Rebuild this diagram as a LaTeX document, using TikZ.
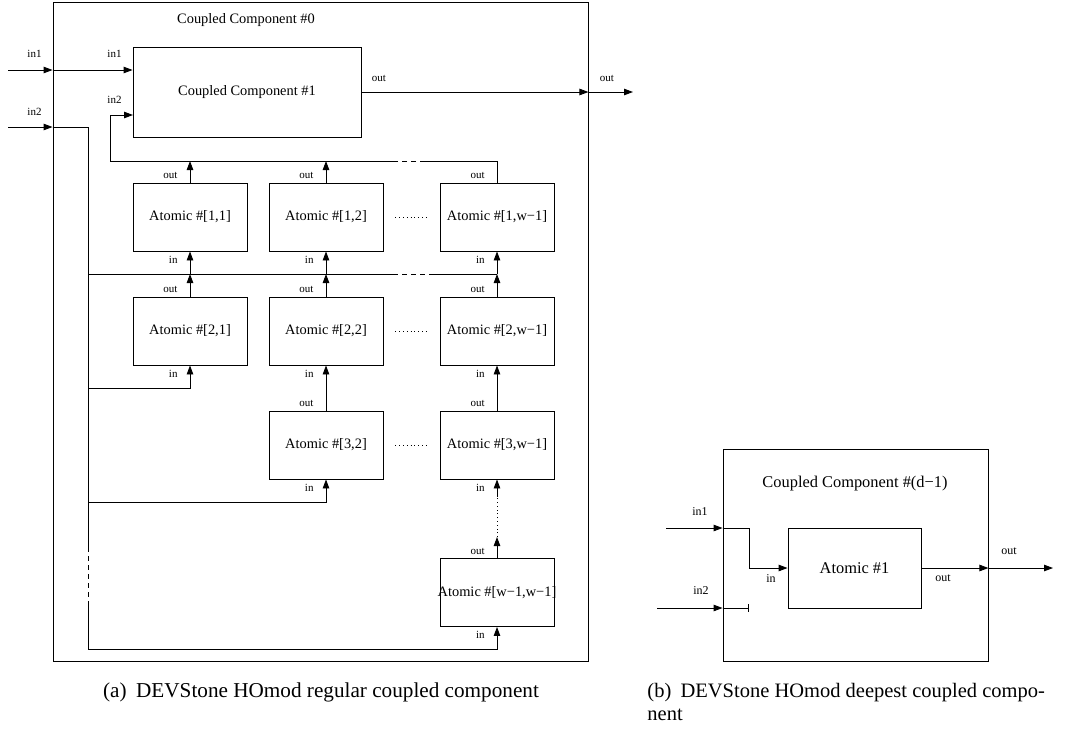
\documentclass[tikz,border=0pt]{standalone}
\usepackage{fontspec}
\setmainfont{Liberation Serif}
\usetikzlibrary{arrows.meta}

\begin{document}
\begin{tikzpicture}[x=1pt,y=-1pt,line width=0.9pt,
    devTxt/.style={font=\fontsize{14.4}{17}\selectfont},
    devTxtB/.style={font=\fontsize{16.4}{19}\selectfont},
    devBlk/.style={draw,inner sep=0pt,minimum width=114pt,minimum height=68pt,devTxt},
    devLbl/.style={font=\fontsize{11}{13}\selectfont,inner sep=1pt},
    devLblB/.style={font=\fontsize{12}{14}\selectfont,inner sep=1pt},
    devSig/.style={-{Triangle[length=9pt,width=6.5pt]}},
    devGap/.style={dash pattern=on 5pt off 4pt},
    devDots/.style={line width=0.6pt,dash pattern=on 0.8pt off 3pt},
    devCap/.style={font=\fontsize{20.5}{23}\selectfont,inner sep=0pt},
]
\useasboundingbox (0,0) rectangle (1065,729);
% (a) regular coupled component
\node[draw,minimum width=535pt,minimum height=659pt] (cc0) at (320.5,331.5) {};
\node[devTxt] (cc0t) at (246,20) {Coupled Component \#0};
\node[draw,minimum width=228pt,minimum height=90pt,devTxt] (cc1) at (247,92) {Coupled Component \#1};
% atomic grid
\node[devBlk] (a11) at (190,217) {Atomic \#[1,1]};
\node[devBlk] (a12) at (326,217) {Atomic \#[1,2]};
\node[devBlk] (a1w) at (497,217) {Atomic \#[1,w−1]};
\node[devBlk] (a21) at (190,331) {Atomic \#[2,1]};
\node[devBlk] (a22) at (326,331) {Atomic \#[2,2]};
\node[devBlk] (a2w) at (497,331) {Atomic \#[2,w−1]};
\node[devBlk] (a32) at (326,445) {Atomic \#[3,2]};
\node[devBlk] (a3w) at (497,445) {Atomic \#[3,w−1]};
\node[devBlk] (aww) at (497,592.5) {};
\node[devTxt,inner sep=0pt] (awwt) at (aww) {Atomic \#[w−1,w−1]};
\foreach \n in {a11,a12,a1w,a21,a22,a2w,a32,a3w,aww} {
  \node[devLbl,anchor=east] (\n-out) at ([xshift=-11pt,yshift=7pt]\n.north) {out};
  \node[devLbl,anchor=east] (\n-in) at ([xshift=-11pt,yshift=-8pt]\n.south) {in};
}
\foreach \r in {1,2} {
  \draw[devDots,shorten <=12pt,shorten >=13pt] (a\r2.east) -- (a\r w.west);
}
\draw[devDots,shorten <=12pt,shorten >=13pt] (a32.east) -- (a3w.west);
% ports of #0 and #1
\coordinate (in1src) at (8,70);
\coordinate (in2src) at (8,127);
\coordinate (outdst) at (633,92);
\coordinate (cc1in2) at (133,115);
\draw[devSig] (in1src) -- (in1src -| cc0.west);
\draw[devSig] (in1src -| cc0.west) -- (in1src -| cc1.west);
\draw[devSig] (in2src) -- (in2src -| cc0.west);
\draw[devSig] (cc1.east) -- (cc1.east -| cc0.east);
\draw[devSig] (cc1.east -| cc0.east) -- (outdst);
\node[devLbl] (lin1a) at (34.5,54) {in1};
\node[devLbl] (lin2a) at (34.5,112) {in2};
\node[devLbl] (lin1b) at (114.5,54) {in1};
\node[devLbl] (lin2b) at (114.5,100) {in2};
\node[devLbl] (louta) at (379,78) {out};
\node[devLbl] (loutb) at (607,78) {out};
% in2 feed down the left side
\coordinate (feed) at (88,127);
\coordinate (bus2) at (88,274);
\coordinate (feedend) at (88,649);
\draw (in2src -| cc0.west) -- (feed) -- (88,547);
\draw[devGap] (88,547) -- (88,602);
\draw[devSig] (88,602) -- (feedend) -| (aww.south);
\draw[devSig] (88,388) -| (a21.south);
\draw[devSig] (88,502) -| (a32.south);
\draw (bus2) -- (393,274);
\draw[devGap] (393,274) -- (430,274);
\draw (430,274) -- (bus2 -| a1w.south);
\foreach \c in {1,2,w} {
  \draw[devSig] (a2\c.north) -- (a2\c.north |- bus2);
  \draw[devSig] (a2\c.north |- bus2) -- (a1\c.south);
}
\draw[devSig] (a32.north) -- (a22.south);
\draw[devSig] (a3w.north) -- (a2w.south);
\draw[devSig] (aww.north) -- (497,537);
\draw[devDots] (497,537) -- (497,497);
\draw[devSig] (497,497) -- (a3w.south);
% outputs of row 1 back to in2 of #1
\coordinate (bus1) at (110,161);
\draw[devSig] (a11.north) -- (a11.north |- bus1);
\draw[devSig] (a12.north) -- (a12.north |- bus1);
\draw (a1w.north) -- (a1w.north |- bus1) -- (425,161);
\draw[devGap] (425,161) -- (395,161);
\draw[devSig] (395,161) -- (bus1) |- (cc1in2);
% (b) deepest coupled component
\node[draw,minimum width=265pt,minimum height=212pt] (ccd) at (855.5,555) {};
\node[devTxtB] (ccdt) at (855,484) {Coupled Component \#(d−1)};
\node[draw,minimum width=133pt,minimum height=80pt,devTxtB] (at1) at (854.5,568) {Atomic \#1};
\coordinate (din1) at (666,528);
\coordinate (din2) at (657,608);
\coordinate (dout) at (1053,568);
\draw[devSig] (din1) -- (din1 -| ccd.west);
\draw[devSig] (din1 -| ccd.west) -- (749,528) |- (at1.west);
\draw[devSig] (din2) -- (din2 -| ccd.west);
\draw[-{Bar[width=8pt]}] (din2 -| ccd.west) -- (749,608);
\draw[devSig] (at1.east) -- (at1.east -| ccd.east);
\draw[devSig] (at1.east -| ccd.east) -- (dout);
\node[devLblB] (din1l) at (700,512) {in1};
\node[devLblB] (din2l) at (701,591) {in2};
\node[devLblB] (dinl) at (771,579) {in};
\node[devLblB] (doutl) at (943,578) {out};
\node[devLblB] (doutl2) at (1009,551) {out};
% captions
\node[devCap,font=\fontsize{21.2}{23}\selectfont,anchor=base] (capa) at (321,697) {(a)\hspace{0.45em}DEVStone HOmod regular coupled component};
\node[devCap,anchor=base west,align=left] (capb) at (647,720) {(b)\hspace{0.45em}DEVStone HOmod deepest coupled compo-\\nent};
\end{tikzpicture}
\end{document}
